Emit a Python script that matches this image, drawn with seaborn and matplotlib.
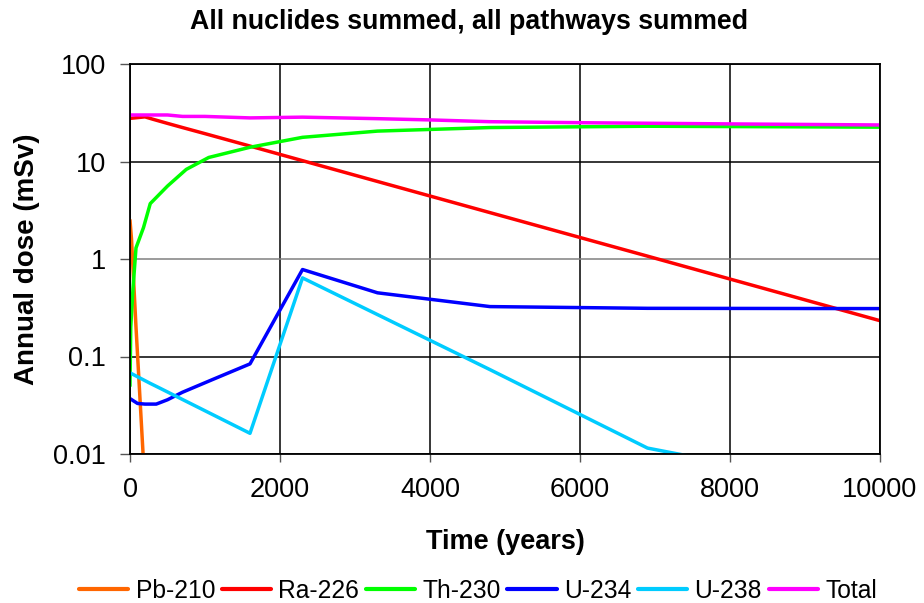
import numpy as np
import pandas as pd
import matplotlib
matplotlib.use("Agg")
import matplotlib.pyplot as plt
import seaborn as sns
from matplotlib.ticker import FixedLocator, FixedFormatter, NullLocator

# ---- data ----
series_names = ["Pb-210", "Ra-226", "Th-230", "U-234", "U-238", "Total"]
colors = ["#FF6600", "#FF0000", "#00FF00", "#0000FF", "#00CCFF", "#FF00FF"]

pb210_t = [0, 20, 80, 175]
pb210_v = [2.5, 1.6, 0.2, 0.0098]

ra226_t = [0, 200, 300, 500, 700, 1000, 1600, 2300, 3300, 4800, 6900, 10000]
ra226_v = [27.7, 28.7, 27.2, 24.6, 22.3, 19.3, 14.4, 10.2, 6.24, 2.99, 1.07, 0.233]

th230_t = [0, 10, 40, 80, 180, 270, 500, 750, 1050, 1600, 2300, 3300, 4800, 6900, 10000]
th230_v = [0.05, 0.2, 0.5, 1.3, 2.1, 3.7, 5.6, 8.3, 11.0, 14.0, 17.7, 20.5, 22.3, 23.0, 22.5]

u234_t = [0, 100, 200, 350, 500, 700, 1100, 1600, 2300, 3300, 4800, 6900, 10000]
u234_v = [0.037, 0.033, 0.0325, 0.0325, 0.036, 0.043, 0.058, 0.084, 0.78, 0.45, 0.325, 0.312, 0.31]

u238_t = [0, 270, 360, 1600, 2300, 3300, 4800, 6900, 10000]
u238_v = [0.068, 0.053, 0.049, 0.0163, 0.64, 0.269, 0.0733, 0.0115, 0.004]

total_t = [0, 300, 500, 700, 1000, 1600, 2300, 3300, 4000, 4800, 6000, 8000, 10000]
total_v = [30.0, 30.0, 30.0, 29.0, 29.0, 28.0, 28.5, 27.5, 26.7, 25.6, 25.0, 24.3, 23.7]

x_ticks = [0, 2000, 4000, 6000, 8000, 10000]
x_tick_labels = ["0", "2000", "4000", "6000", "8000", "10000"]
y_ticks = [0.01, 0.1, 1, 10, 100]
y_tick_labels = ["0.01", "0.1", "1", "10", "100"]

title = "All nuclides summed, all pathways summed"
xlabel = "Time (years)"
ylabel = "Annual dose (mSv)"

# ---- build long-form table ----
frames = []
for name, t, v in zip(series_names,
                      [pb210_t, ra226_t, th230_t, u234_t, u238_t, total_t],
                      [pb210_v, ra226_v, th230_v, u234_v, u238_v, total_v]):
    frames.append(pd.DataFrame({"Time": t, "Dose": v, "Series": name}))
df = pd.concat(frames, ignore_index=True)

sns.set_theme(style="white")
plt.rcParams["font.family"] = ["Liberation Sans", "DejaVu Sans"]
plt.rcParams["text.color"] = "black"
plt.rcParams["axes.labelcolor"] = "black"
plt.rcParams["xtick.color"] = "black"
plt.rcParams["ytick.color"] = "black"

fig = plt.figure(figsize=(9.24, 6.03), dpi=100)
ax = fig.add_axes([130 / 924, 1 - 454 / 603, 750 / 924, 390 / 603])

sns.lineplot(data=df, x="Time", y="Dose", hue="Series", hue_order=series_names,
             palette=dict(zip(series_names, colors)), estimator=None, sort=False,
             linewidth=2.5, ax=ax, legend=False)

ax.set_yscale("log")
ax.set_xlim(0, 10000)
ax.set_ylim(0.01, 100)

ax.xaxis.set_major_locator(FixedLocator(x_ticks))
ax.xaxis.set_major_formatter(FixedFormatter(x_tick_labels))
ax.yaxis.set_major_locator(FixedLocator(y_ticks))
ax.yaxis.set_major_formatter(FixedFormatter(y_tick_labels))
ax.yaxis.set_minor_locator(NullLocator())
ax.xaxis.set_minor_locator(NullLocator())

ax.tick_params(axis="x", which="major", labelsize=19.5, direction="out",
               length=6, width=1, color="#555555", bottom=True, pad=10.5,
               labelcolor="black")
ax.tick_params(axis="y", which="major", labelsize=19.5, direction="out",
               length=7, width=1, color="#555555", left=True, pad=10.5,
               labelcolor="black")

ax.grid(True, which="major", color="black", linewidth=1.1)
for gl, val in zip(ax.get_ygridlines(), y_ticks):
    if val == 1:
        gl.set_color("#808080")
ax.set_axisbelow(True)

for sp in ax.spines.values():
    sp.set_visible(True)
    sp.set_color("black")
    sp.set_linewidth(1.3)

ax.set_xlabel(xlabel, fontsize=19.5, fontweight="bold", labelpad=19)
ax.set_ylabel(ylabel, fontsize=20, fontweight="bold", labelpad=9)
fig.text(469 / 924, 1 - 22 / 603, title, fontsize=19.3, fontweight="bold",
         ha="center", va="center", color="black")

handles = [plt.Line2D([0], [0], color=c, linewidth=3) for c in colors]
fig.legend(handles, series_names, loc="center", bbox_to_anchor=(478 / 924, 1 - 591 / 603),
           ncol=6, frameon=False, fontsize=17.7, handlelength=2.0,
           handletextpad=0.3, columnspacing=0.27, labelcolor="black")

fig.savefig("out.png", dpi=100)
